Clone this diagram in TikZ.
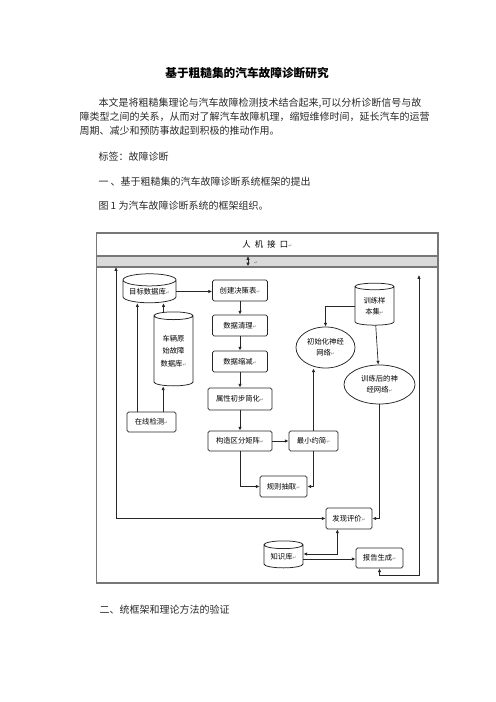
\documentclass[tikz,border=0pt]{standalone}
\usepackage{fontspec}
\setmainfont{Noto Sans CJK SC}
\newfontfamily\symfont{DejaVu Sans}
\usetikzlibrary{shapes.geometric,arrows.meta}

\definecolor{linecol}{HTML}{262626}
\definecolor{framecol}{HTML}{777777}
\definecolor{bandcol}{HTML}{DADADA}
\definecolor{textcol}{HTML}{2A2A2A}

\newcommand\diagfont{\fontsize{8.8}{13}\selectfont}
\newcommand\retmark{{\symfont\fontsize{5.5}{5.5}\selectfont\textcolor{black!50}{↵}}}

\tikzset{
  wh/.style 2 args={minimum width=#1*1.2pt, minimum height=#2*1.2pt},
  framebox/.style={draw=framecol, line width=1.5pt, inner sep=0pt},
  procbox/.style={draw=linecol, line width=0.9pt, rounded corners=2pt,
    inner sep=0pt, font=\diagfont, align=center},
  dbbox/.style={cylinder, shape border rotate=90, aspect=0.3, draw=linecol,
    line width=0.9pt, inner sep=0pt, font=\diagfont, align=center},
  netbox/.style={ellipse, draw=linecol, line width=0.9pt, inner sep=0pt,
    font=\diagfont, align=center},
  arr/.style={draw=linecol, line width=0.8pt, -{Latex[length=4.5pt,width=4pt]}},
  biarr/.style={draw=linecol, line width=0.8pt,
    {Latex[length=4.5pt,width=4pt]}-{Latex[length=4.5pt,width=4pt]}},
}

\begin{document}
\begin{tikzpicture}[x=1.2pt, y=-1.2pt]
  \useasboundingbox[fill=white] (0,0) rectangle (496,702);

  % page text
  \node[font=\fontsize{14}{16}\selectfont\bfseries] (title) at (247,73)
    {基于粗糙集的汽车故障诊断研究};
  {\fontsize{12}{14}\selectfont\color{textcol}
    \node[anchor=west] (par1) at (95,103)
      {本文是将粗糙集理论与汽车故障检测技术结合起来,可以分析诊断信号与故};
    \node[anchor=west] (par2) at (76,117)
      {障类型之间的关系，从而对了解汽车故障机理，缩短维修时间，延长汽车的运营};
    \node[anchor=west] (par3) at (76,131)
      {周期、减少和预防事故起到积极的推动作用。};
    \node[anchor=west] (tags) at (95,157) {标签：故障诊断};
    \node[anchor=west] (sec1) at (95,182) {一 、基于粗糙集的汽车故障诊断系统框架的提出};
    \node[anchor=west] (fig1) at (95,206) {图 1 为汽车故障诊断系统的框架组织。};
    \node[anchor=west] (sec2) at (96,610) {二、统框架和理论方法的验证};
  }

  % frame
  \filldraw[fill=bandcol, draw=framecol, line width=1.5pt] (96.5,256) rectangle (438,267);
  \node[framebox, wh={341.5}{23}] (iface) at (267.25,244.5)
    {\fontsize{10}{12}\selectfont 人\hspace{5pt}机\hspace{5pt}接\hspace{5pt}口\retmark};
  \node[framebox, wh={341.5}{316}] (sysbox) at (267.25,425) {};
  \coordinate (ifarrow) at (248,256);
  \node (bandmark) at (256,263) {\retmark};
  \coordinate (lrail) at (116,267);
  \coordinate (rrail) at (419,275);
  \coordinate (rbot) at (419,575);

  % databases
  \node[dbbox, wh={53}{29}] (tgtdb) at (149.5,291.5) {目标数据库\retmark};
  \node[dbbox, wh={39}{74}] (vehdb) at (173.5,351)
    {车辆原\\[2pt]始故障\\[2pt]数据库\retmark};
  \node[procbox, wh={49}{20}] (online) at (151.5,422) {在线检测\retmark};
  \node[dbbox, wh={39}{42}] (samples) at (374.5,306) {训练样\\本集\retmark};
  \node[dbbox, wh={39}{27}] (kb) at (283.5,556.5) {知识库\retmark};

  % rough set chain
  \node[procbox, wh={55}{21}] (dtable) at (240,290.5) {创建决策表\retmark};
  \node[procbox, wh={55}{21}] (clean) at (240,325.5) {数据清理\retmark};
  \node[procbox, wh={55}{21}] (reduce) at (240,361.5) {数据缩减\retmark};
  \node[procbox, wh={64}{22}] (attr) at (240,399) {属性初步简化\retmark};
  \node[procbox, wh={64}{20}] (matrix) at (240,441) {构造区分矩阵\retmark};
  \node[procbox, wh={49}{20}] (minred) at (313.5,441) {最小约简\retmark};
  \node[procbox, wh={47}{21}] (rules) at (283.5,486.5) {规则抽取\retmark};

  % neural nets
  \node[netbox, wh={59}{41}] (initnn) at (325.5,347.5) {初始化神经\\网络\retmark};
  \node[netbox, wh={71}{39}] (trainnn) at (379.5,384.5) {训练后的神\\经网络\retmark};

  % output
  \node[procbox, wh={46}{21}] (evalu) at (349,518.5) {发现评价\retmark};
  \node[procbox, wh={47}{20}] (report) at (379.5,558) {报告生成\retmark};

  % connectors
  \draw[biarr] (ifarrow) -- (ifarrow |- sysbox.north);
  \draw[arr] (tgtdb.east) -- (tgtdb.east -| dtable.west);
  \draw[arr] (dtable) -- (clean);
  \draw[arr] (clean) -- (reduce);
  \draw[arr] (reduce) -- (attr);
  \draw[arr] (attr) -- (matrix);
  \draw[arr] (matrix) -- (minred);
  \draw[arr] (matrix.south) |- (rules.west);
  \draw[arr] (minred.south) |- (rules.east);
  \draw[arr] (minred.north) -- (minred.north |- initnn.south);
  \draw[arr] (samples.west) -| (initnn.north);
  \draw[arr] (samples) -- (trainnn);
  \draw[arr] (trainnn.south) |- (evalu.east);
  \draw[arr] ([xshift=-17pt]online.north) -- ([xshift=-17pt]online.north |- tgtdb.south);
  \draw[arr] ([xshift=14pt]online.north) -- ([xshift=14pt]online.north |- vehdb.south);
  \draw[arr] ([xshift=-12pt]vehdb.north) -- ([xshift=-12pt]vehdb.north |- tgtdb.south);
  \draw[biarr] (lrail) |- (evalu.west);
  \draw[biarr] (rrail) -- (rbot) -| (report.south);
  \draw[biarr] ([yshift=3pt]kb.east) -| ([xshift=-14pt]evalu.south);
  \draw[arr] ([yshift=-3pt]kb.east) -- ([yshift=-3pt]kb.east -| report.west);
\end{tikzpicture}
\end{document}
